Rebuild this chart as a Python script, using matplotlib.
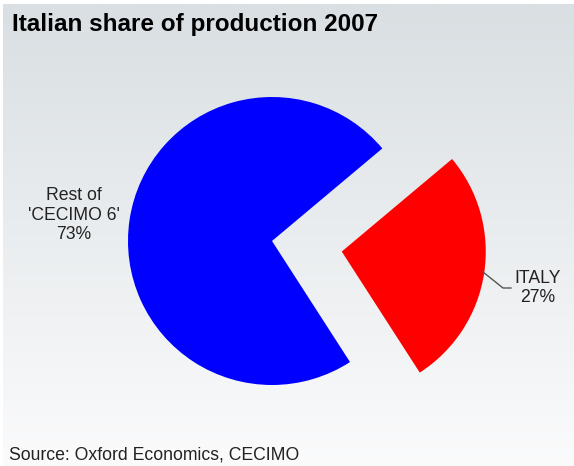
import numpy as np
import matplotlib
matplotlib.use("Agg")
import matplotlib.pyplot as plt

plt.rcParams['font.family'] = ['Liberation Sans', 'DejaVu Sans']

# data
labels = ["Rest of\n'CECIMO 6'", "ITALY"]
shares = [73, 27]
colors = ["#0000ff", "#ff0000"]
title = "Italian share of production 2007"
source = "Source: Oxford Economics, CECIMO"

W, H = 574, 466
fig = plt.figure(figsize=(W / 100, H / 100), dpi=100)
fig.patch.set_facecolor("white")

# pixel-like axes over the whole figure (y goes up)
ax = fig.add_axes([0, 0, 1, 1])

# soft grey -> white vertical gradient background
top = np.array([217, 223, 226]) / 255
bot = np.array([251, 251, 252]) / 255
t = np.linspace(0, 1, 200)[:, None]
grad = top * (1 - t) + bot * t
grad = grad[:, None, :]
ax.imshow(grad, extent=[3, W, 0, H - 4], aspect="auto", zorder=0)

# pie (explode is in data units when center/radius are given)
cx, cy, r = 272, H - 241, 144
ax.pie(shares, colors=colors, startangle=40, explode=[0, 0.49 * r],
       center=(cx, cy), radius=r, frame=True,
       wedgeprops=dict(linewidth=0))
ax.set_xlim(0, W)
ax.set_ylim(0, H)
ax.set_aspect("equal")
ax.axis("off")

# labels
ax.text(74, H - 215, f"{labels[0]}\n{shares[0]}%", ha="center", va="center",
        fontsize=12.7, color="#222222", linespacing=1.2)
ax.text(538, H - 288, f"{labels[1]}\n{shares[1]}%", ha="center", va="center",
        fontsize=12.7, color="#222222", linespacing=1.2)
ax.plot([483, 503, 511], [H - 272, H - 288, H - 288], color="#555555", lw=1)

ax.text(12, H - 25, title, ha="left", va="center", fontsize=17.5,
        fontweight="bold", color="black")
ax.text(9, H - 455, source, ha="left", va="center", fontsize=12.7,
        color="#222222")

fig.savefig("out.png", dpi=100)
